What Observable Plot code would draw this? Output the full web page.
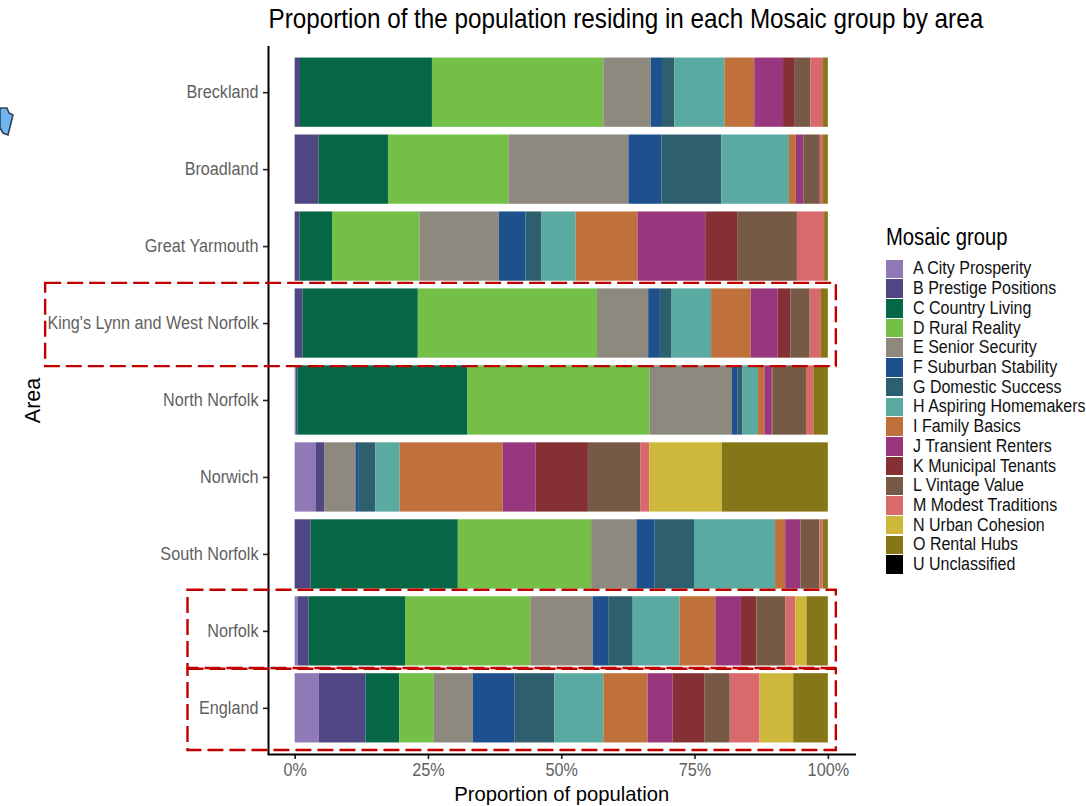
<!DOCTYPE html>
<html>
<head>
<meta charset="utf-8">
<script src="https://cdn.jsdelivr.net/npm/d3@7"></script>
<script src="https://cdn.jsdelivr.net/npm/@observablehq/plot@0.6"></script>
<style>
html,body{margin:0;padding:0;background:#fff;width:1086px;height:806px;overflow:hidden}
#wrap{position:relative;width:1086px;height:806px;font-family:"Liberation Sans",Arial,sans-serif}
#legend{position:absolute;left:886px;top:224px}
#legend .t{font-size:23px;line-height:26px;height:35px;color:#000;transform:scaleX(.88);transform-origin:0 0;white-space:nowrap}
#legend .r{display:flex;align-items:center;height:19.73px;white-space:nowrap}
#legend .s{width:17px;height:18.5px;margin-right:10px;flex:none}
#legend .l{font-size:17.6px;color:#111;transform:scaleX(.91);transform-origin:0 50%}
#blob{position:absolute;left:0;top:100px}
</style>
</head>
<body>
<div id="wrap"><div id="chart"></div><div id="legend"></div>
<svg id="blob" width="16" height="44"><polygon points="0,8 7,8 9,13 13,15 8,35 3,33 0,28" fill="#6fb5f2" stroke="#33414f" stroke-width="1.6"/></svg>
</div>
<script>
const areas = ["Breckland","Broadland","Great Yarmouth","King's Lynn and West Norfolk","North Norfolk","Norwich","South Norfolk","Norfolk","England"];
const groups = ["A City Prosperity","B Prestige Positions","C Country Living","D Rural Reality","E Senior Security","F Suburban Stability","G Domestic Success","H Aspiring Homemakers","I Family Basics","J Transient Renters","K Municipal Tenants","L Vintage Value","M Modest Traditions","N Urban Cohesion","O Rental Hubs","U Unclassified"];
const colors = ["#8f79b7","#4f4783","#066747","#73bf47","#8d897e","#1d508c","#2e5f6e","#5aaaa2","#c0703a","#98377e","#853035","#775a45","#d96a6c","#cdb83c","#857618","#000000"];
const A = [0,0,0,0,0.2,3.9,0,0.6,4.5];
const B = [1.0,4.5,0.9,1.5,0.3,1.7,3.0,2.0,8.8];
const C = [24.75,13.0,6.1,21.6,31.9,0,27.6,18.1,6.3];
const D = [32.15,22.6,16.4,33.6,34.2,0,25.0,23.5,6.5];
const E = [8.9,22.5,14.9,9.6,15.4,5.8,8.5,11.7,7.3];
const F = [2.1,6.2,5.0,2.2,1.1,0.5,3.4,2.9,7.8];
const G = [2.3,11.2,3.0,2.2,0.9,3.2,7.4,4.6,7.5];
const H = [9.4,12.7,6.4,7.4,2.9,4.6,15.2,8.8,9.2];
const I = [5.6,1.3,11.6,7.4,1.2,19.3,1.9,6.7,8.3];
const J = [5.4,1.4,12.7,5.1,1.3,6.2,2.8,4.8,4.7];
const K = [2.2,0,6.1,2.4,0.2,9.8,0.1,2.9,6.0];
const L = [2.9,3.1,11.1,3.6,6.3,9.8,3.5,5.4,4.7];
const M = [2.4,0.6,5.1,2.1,1.4,1.7,0.6,1.9,5.6];
const N = [0,0,0,0,0,13.6,0,2.1,6.3];
const O = [0.9,0.9,0.7,1.3,2.7,19.9,1.0,4.0,6.5];
const U = [0,0,0,0,0,0,0,0,0];
const series = [A,B,C,D,E,F,G,H,I,J,K,L,M,N,O,U];
const xTicks = [0,25,50,75,100];
const highlights = [
  {area:"King's Lynn and West Norfolk", x1:-46.8, x2:101.5, top:-5.5, bottom:-8.5},
  {area:"Norfolk", x1:-20.1, x2:101.5, top:-6.5, bottom:-2.5},
  {area:"England", x1:-20.1, x2:101.5, top:-4.5, bottom:-7.5}
];
const rows = groups.flatMap((g,i)=>areas.map((a,j)=>({group:g,area:a,value:series[i][j]})));

const plot = Plot.plot({
  width:1086, height:806,
  marginLeft:268, marginRight:231.5, marginTop:46, marginBottom:52,
  style:{fontFamily:"Liberation Sans", background:"#fff"},
  x:{domain:[-5,105]},
  y:{domain:areas, paddingInner:0.1, paddingOuter:0.15, round:false},
  color:{domain:groups, range:colors},
  marks:[
    Plot.barX(rows, Plot.stackX({x:"value", y:"area", fill:"group"})),
    Plot.axisX({ticks:xTicks, tickFormat:d=>d+"%", label:null, tickSize:5, tickPadding:4, fontSize:18, color:"#5f5f5f", stroke:"#222", strokeWidth:1.6}),
    Plot.axisY({label:null, tickSize:5, tickPadding:5, fontSize:18, color:"#5f5f5f", stroke:"#222", strokeWidth:1.6}),
    Plot.ruleX([-5], {stroke:"#000", strokeWidth:2}),
    Plot.text(["Proportion of the population residing in each Mosaic group by area"], {frameAnchor:"top-left", dy:-27, fontSize:27.5, fill:"#000", lineAnchor:"middle", text:d=>d}),
    Plot.text(["Proportion of population"], {frameAnchor:"bottom", dy:39.5, fontSize:21, fill:"#000", text:d=>d, lineAnchor:"middle"}),
    Plot.text(["Area"], {frameAnchor:"left", dx:-235, rotate:-90, fontSize:21.5, fill:"#000", text:d=>d, textAnchor:"middle"}),
    Plot.frame({anchor:"bottom", stroke:"#000", strokeWidth:2}),
    ...highlights.map(h=>Plot.barX([h], {x1:"x1", x2:"x2", y:"area", insetTop:h.top, insetBottom:h.bottom, fill:"none", stroke:"#c00000", strokeWidth:2.4, strokeDasharray:"16,6"}))
  ]
});
document.getElementById("chart").appendChild(plot);
const squeeze = {"27.5":0.882, "21":0.964, "18":0.9};
plot.querySelectorAll("text").forEach(t=>{
  const fs = t.closest("[font-size]")?.getAttribute("font-size");
  const k = squeeze[fs];
  if (k) {
    t.setAttribute("textLength", t.getComputedTextLength()*k);
    t.setAttribute("lengthAdjust","spacingAndGlyphs");
  }
});
const leg = d3.select("#legend");
leg.append("div").attr("class","t").text("Mosaic group");
groups.forEach((g,i)=>{
  const r = leg.append("div").attr("class","r");
  r.append("div").attr("class","s").style("background",colors[i]);
  r.append("div").attr("class","l").text(g);
});
</script>
</body>
</html>
